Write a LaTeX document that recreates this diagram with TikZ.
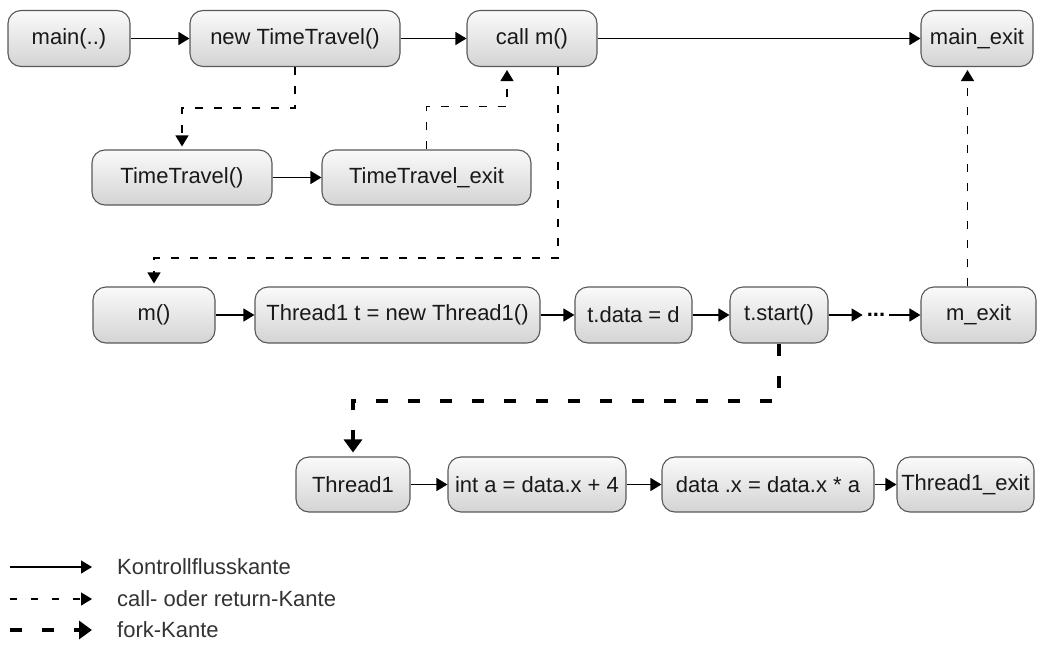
\documentclass[tikz,border=0pt]{standalone}
\usepackage{fontspec}
\setmainfont{Liberation Sans}
\usetikzlibrary{arrows.meta}

\tikzset{
	blk/.style={draw=black!65,line width=1.1pt,rounded corners=13pt,top color=black!2,bottom color=black!17,text=black!90,inner sep=0pt,minimum height=56pt,font=\fontsize{22}{26}\selectfont},
	legtxt/.style={anchor=west,inner sep=0pt,text=black!80,font=\fontsize{22}{26}\selectfont},
	flow/.style={line width=1.3pt,-{Triangle[length=11pt,width=13pt]}},
	callret/.style={flow,dash pattern=on 8pt off 11pt},
	fork/.style={line width=4pt,dash pattern=on 12pt off 20pt,-{Triangle[length=13pt,width=18pt]}},
}

\begin{document}
\begin{tikzpicture}[x=1pt,y=-1pt]
		\useasboundingbox(0,0)rectangle(1041,653);
		% main
		\node[blk,minimum width=122pt](main)at(69,38.5){main(..)};
		\node[blk,minimum width=210pt](newtt)at(295,38.5){new TimeTravel()};
		\node[blk,minimum width=130pt](callm)at(532,38.5){call m()};
		\node[blk,minimum width=112pt](mainex)at(977,38.5){main\_exit};
		\node[blk,minimum width=180pt,minimum height=55pt](tt)at(182,177.5){TimeTravel()};
		\node[blk,minimum width=209pt,minimum height=55pt](ttex)at(426.5,177.5){TimeTravel\_exit};
		% m()
		\node[blk,minimum width=122pt](m)at(154,315){m()};
		\node[blk,minimum width=285pt](thr)at(397.5,315){Thread1 t = new Thread1()};
		\node[blk,minimum width=117pt](tdata)at(633.5,315){t.data = d};
		\node[blk,minimum width=98pt](tstart)at(779,315){t.start()};
		\node[inner xsep=4pt,inner ysep=0pt,font=\fontsize{22}{26}\selectfont\bfseries](dots)at(876,315){...};
		\node[blk,minimum width=115pt](mex)at(978.5,315){m\_exit};
		% Thread1
		\node[blk,minimum width=114pt,minimum height=55pt](thread)at(353,484.5){Thread1};
		\node[blk,minimum width=178pt,minimum height=55pt](inta)at(537,484.5){int a = data.x + 4};
		\node[blk,minimum width=212pt,minimum height=55pt](datax)at(768,484.5){data .x = data.x * a};
		\node[blk,minimum width=137pt,minimum height=55pt](threx)at(965.5,484.5){Thread1\_exit};

		\draw[flow](main)--(newtt);
		\draw[flow](newtt)--(callm);
		\draw[flow](callm)--(mainex);
		\draw[flow](tt)--(ttex);
		\draw[flow](m)--(thr);
		\draw[flow](thr)--(tdata);
		\draw[flow](tdata)--(tstart);
		\draw[flow](tstart)--(dots);
		\draw[flow](dots)--(mex);
		\draw[flow](thread)--(inta);
		\draw[flow](inta)--(datax);
		\draw[flow](datax)--(threx);

		\draw[callret,shorten >=3pt](newtt.south)--++(0,41)-|(tt.north);
		\draw[callret,shorten >=3pt](ttex.north)--++(0,-43)-|([xshift=-25pt]callm.south);
		\draw[callret,shorten >=3pt]([xshift=26pt]callm.south)--++(0,191)-|(m.north);
		\draw[callret,shorten >=3pt]([xshift=-11pt]mex.north)--([xshift=-11pt]mex.north|-mainex.south);
		\draw[fork,shorten >=4pt](tstart.south)--++(0,57)-|(thread.north);

		% legend
		\coordinate(l1)at(10,567);
		\coordinate(l2)at(10,599);
		\coordinate(l3)at(10,630);
		\node[legtxt](k1)at(117,567){Kontrollflusskante};
		\node[legtxt](k2)at(117,599){call- oder return-Kante};
		\node[legtxt](k3)at(117,630){fork-Kante};
		\draw[flow](l1)--([xshift=-25pt]k1.west);
		\draw[callret,dash pattern=on 7pt off 14pt](l2)--([xshift=-25pt]k2.west);
		\draw[fork](l3)--([xshift=-25pt]k3.west);
	\end{tikzpicture}
\end{document}
